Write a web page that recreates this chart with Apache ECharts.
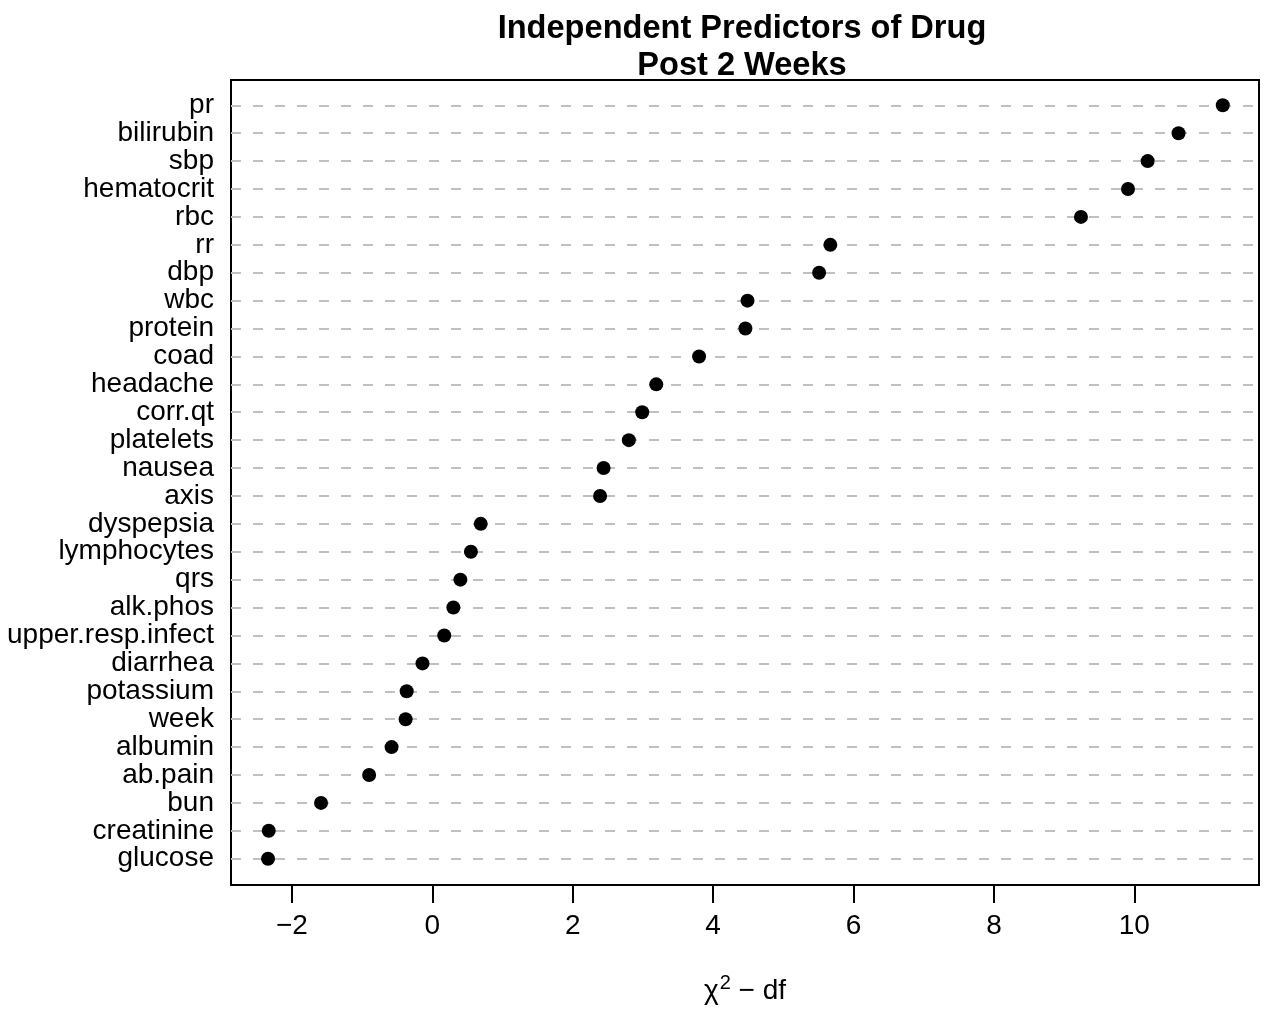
<!DOCTYPE html>
<html>
<head>
<meta charset="utf-8">
<script src="https://cdn.jsdelivr.net/npm/echarts@6/dist/echarts.min.js"></script>
<style>html,body{margin:0;padding:0;background:#fff;}#c{width:1274px;height:1010px;}</style>
</head>
<body>
<div id="c"></div>
<script>
// Categories listed top to bottom
var categories = ["pr","bilirubin","sbp","hematocrit","rbc","rr","dbp","wbc","protein","coad",
  "headache","corr.qt","platelets","nausea","axis","dyspepsia","lymphocytes","qrs","alk.phos",
  "upper.resp.infect","diarrhea","potassium","week","albumin","ab.pain","bun","creatinine","glucose"];
var values = [11.26,10.63,10.19,9.91,9.24,5.67,5.51,4.49,4.46,3.80,
  3.19,2.99,2.80,2.44,2.39,0.69,0.55,0.40,0.30,
  0.17,-0.14,-0.365,-0.38,-0.58,-0.90,-1.585,-2.33,-2.34];
var xTicks = [-2,0,2,4,6,8,10];
var titleText = "Independent Predictors of Drug\nPost 2 Weeks";

var n = categories.length;
var rowPos = categories.map(function(c,i){return n - i;});
var data = values.map(function(v,i){return [v, n - i];});
var FONT = "Liberation Sans, Arial, Helvetica, sans-serif";

var chart = echarts.init(document.getElementById('c'), null, {renderer:'canvas'});
chart.setOption({
  animation:false,
  backgroundColor:'#fff',
  title:{
    text:titleText, left:737, top:6, textAlign:'center',
    textStyle:{fontFamily:FONT, fontSize:32.6, fontWeight:'bold', color:'#000', lineHeight:37}
  },
  grid:{left:231, right:15, top:80, bottom:125, show:true, borderColor:'#000', borderWidth:2,
    backgroundColor:'transparent', containLabel:false, outerBoundsMode:'none'},
  xAxis:{
    type:'value', min:-2.8675, max:11.776,
    axisLine:{show:false},
    splitLine:{show:false},
    axisTick:{show:true, customValues:xTicks, length:18, lineStyle:{color:'#000', width:2}},
    axisLabel:{customValues:xTicks, margin:27, fontFamily:FONT, fontSize:28, color:'#000',
      formatter:function(v){return v<0 ? '\u2212'+Math.abs(v) : String(v);}},
    name:'{c|\u03c7}{s|2}{t| \u2212 df}',
    nameLocation:'middle', nameGap:88,
    nameTextStyle:{rich:{
      c:{fontFamily:FONT, fontSize:28, color:'#000'},
      s:{fontFamily:FONT, fontSize:20, color:'#000', padding:[0,0,16,1]},
      t:{fontFamily:FONT, fontSize:28, color:'#000'}
    }}
  },
  yAxis:{
    type:'value', min:0.0575, max:28.907,
    axisLine:{show:false},
    axisTick:{show:false, customValues:rowPos},
    splitLine:{show:true, lineStyle:{color:'#c0c0c0', width:2, type:[10,12], dashOffset:0}},
    axisLabel:{customValues:rowPos, margin:17, fontFamily:FONT, fontSize:28, color:'#000',
      formatter:function(v){var i = n - Math.round(v); return categories[i] || '';}}
  },
  series:[{
    type:'scatter', data:data, symbol:'circle', symbolSize:14,
    itemStyle:{color:'#000', opacity:1}
  }]
});
</script>
</body>
</html>
